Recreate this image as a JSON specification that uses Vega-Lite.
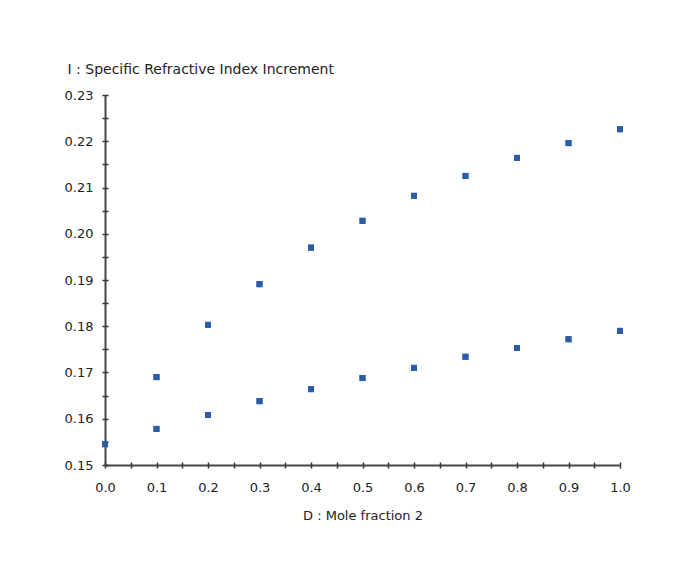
{
  "$schema": "https://vega.github.io/schema/vega-lite/v6.json",
  "width": 515,
  "height": 370,
  "autosize": {"type": "none"},
  "padding": {"left": 105, "top": 95, "right": 66, "bottom": 97},
  "background": "white",
  "config": {
    "view": {"stroke": null},
    "font": "DejaVu Sans"
  },
  "data": {
    "values": [
      {"x": 0.0, "y": 0.1545, "series": "upper"},
      {"x": 0.1, "y": 0.1690, "series": "upper"},
      {"x": 0.2, "y": 0.1803, "series": "upper"},
      {"x": 0.3, "y": 0.1891, "series": "upper"},
      {"x": 0.4, "y": 0.1970, "series": "upper"},
      {"x": 0.5, "y": 0.2028, "series": "upper"},
      {"x": 0.6, "y": 0.2082, "series": "upper"},
      {"x": 0.7, "y": 0.2125, "series": "upper"},
      {"x": 0.8, "y": 0.2164, "series": "upper"},
      {"x": 0.9, "y": 0.2196, "series": "upper"},
      {"x": 1.0, "y": 0.2226, "series": "upper"},
      {"x": 0.1, "y": 0.1578, "series": "lower"},
      {"x": 0.2, "y": 0.1608, "series": "lower"},
      {"x": 0.3, "y": 0.1638, "series": "lower"},
      {"x": 0.4, "y": 0.1664, "series": "lower"},
      {"x": 0.5, "y": 0.1688, "series": "lower"},
      {"x": 0.6, "y": 0.1710, "series": "lower"},
      {"x": 0.7, "y": 0.1734, "series": "lower"},
      {"x": 0.8, "y": 0.1753, "series": "lower"},
      {"x": 0.9, "y": 0.1772, "series": "lower"},
      {"x": 1.0, "y": 0.1790, "series": "lower"}
    ]
  },
  "resolve": {"axis": {"x": "independent", "y": "independent"}},
  "layer": [
    {
      "mark": {"type": "square", "size": 36, "color": "#2a5caa", "opacity": 1, "filled": true},
      "encoding": {
        "x": {
          "field": "x", "type": "quantitative",
          "scale": {"domain": [0, 1], "nice": false, "zero": false},
          "axis": {
            "orient": "bottom",
            "title": "D : Mole fraction 2",
            "values": [0, 0.05, 0.1, 0.15, 0.2, 0.25, 0.3, 0.35, 0.4, 0.45, 0.5, 0.55, 0.6, 0.65, 0.7, 0.75, 0.8, 0.85, 0.9, 0.95, 1.0],
            "labelExpr": "abs(datum.value*10 - round(datum.value*10)) < 0.001 ? format(datum.value, '.1f') : ''",
            "labelFlush": false,
            "grid": false,
            "domainColor": "#444444", "domainWidth": 2,
            "tickColor": "#333333", "tickWidth": 1.5, "tickSize": 3,
            "labelFont": "DejaVu Sans", "labelFontSize": 13, "labelColor": "#222222", "labelPadding": 13,
            "titleFont": "DejaVu Sans", "titleFontSize": 13, "titleFontWeight": "normal", "titleColor": "#222222", "titlePadding": 15
          }
        },
        "y": {
          "field": "y", "type": "quantitative",
          "scale": {"domain": [0.15, 0.23], "nice": false, "zero": false},
          "axis": {
            "orient": "left",
            "title": "I : Specific Refractive Index Increment",
            "values": [0.15, 0.155, 0.16, 0.165, 0.17, 0.175, 0.18, 0.185, 0.19, 0.195, 0.2, 0.205, 0.21, 0.215, 0.22, 0.225, 0.23],
            "labelExpr": "abs(datum.value*100 - round(datum.value*100)) < 0.001 ? format(datum.value, '.2f') : ''",
            "grid": false,
            "domainColor": "#444444", "domainWidth": 2,
            "tickColor": "#333333", "tickWidth": 1.5, "tickSize": 3,
            "labelFont": "DejaVu Sans", "labelFontSize": 13, "labelColor": "#222222", "labelPadding": 9,
            "titleFont": "DejaVu Sans", "titleFontSize": 14, "titleFontWeight": "normal", "titleColor": "#222222",
            "titleAngle": 0, "titleAlign": "left", "titleBaseline": "middle", "titleX": -38, "titleY": -26
          }
        }
      }
    },
    {
      "mark": {"type": "square", "size": 36, "color": "#2a5caa", "opacity": 1, "filled": true},
      "encoding": {
        "x": {
          "field": "x", "type": "quantitative",
          "axis": {
            "orient": "bottom", "offset": -3, "title": null, "labels": false, "domain": false, "grid": false,
            "values": [0, 0.05, 0.1, 0.15, 0.2, 0.25, 0.3, 0.35, 0.4, 0.45, 0.5, 0.55, 0.6, 0.65, 0.7, 0.75, 0.8, 0.85, 0.9, 0.95, 1.0],
            "tickColor": "#333333", "tickWidth": 1.5, "tickSize": 3
          }
        },
        "y": {
          "field": "y", "type": "quantitative",
          "axis": {
            "orient": "left", "offset": -3, "title": null, "labels": false, "domain": false, "grid": false,
            "values": [0.15, 0.155, 0.16, 0.165, 0.17, 0.175, 0.18, 0.185, 0.19, 0.195, 0.2, 0.205, 0.21, 0.215, 0.22, 0.225, 0.23],
            "tickColor": "#333333", "tickWidth": 1.5, "tickSize": 3
          }
        }
      }
    }
  ]
}
